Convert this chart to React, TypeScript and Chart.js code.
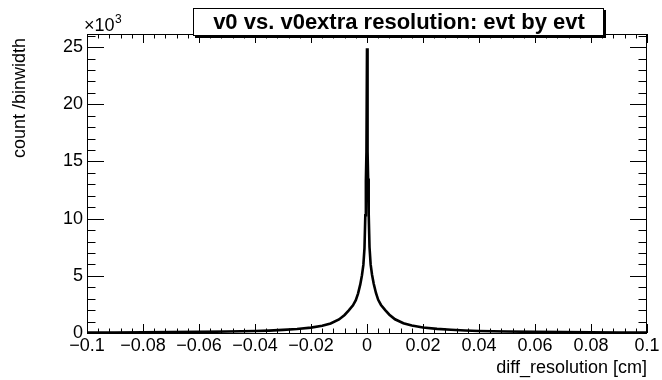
import React, { useEffect, useRef } from "react";
import { Chart, registerables } from "chart.js";

Chart.register(...registerables);

// ---- data (diff_resolution in cm, count per binwidth) ----
const xValues = [
  -0.1, -0.09, -0.08, -0.07, -0.06, -0.05, -0.04, -0.035, -0.03, -0.025,
  -0.02, -0.016, -0.013, -0.01, -0.008, -0.0065, -0.005, -0.004, -0.0032, -0.0024,
  -0.0018, -0.0013, -0.0009, -0.0006, -0.0004, -0.0002, 0, 0.0002, 0.0004, 0.0006,
  0.0009, 0.0013, 0.0018, 0.0024, 0.0032, 0.004, 0.005, 0.0065, 0.008, 0.01,
  0.013, 0.016, 0.02, 0.025, 0.03, 0.035, 0.04, 0.05, 0.06, 0.07,
  0.08, 0.09, 0.1,
];
const yValues = [
  40, 50, 60, 75, 95, 125, 170, 210, 270, 350,
  470, 630, 830, 1180, 1580, 1980, 2420, 2870, 3450, 4250,
  5050, 5950, 7400, 10300, 13300, 15800, 24900, 15900, 13500, 10500,
  7500, 6000, 5100, 4300, 3500, 2900, 2450, 2000, 1600, 1200,
  850, 650, 480, 360, 280, 220, 180, 130, 100, 80,
  60, 50, 40,
];
const xTicks = [-0.1, -0.08, -0.06, -0.04, -0.02, 0, 0.02, 0.04, 0.06, 0.08, 0.1];
const yTicks = [0, 5000, 10000, 15000, 20000, 25000];
const titleText = "v0 vs. v0extra resolution: evt by evt";
const xTitle = "diff_resolution [cm]";
const yTitle = "count /binwidth";

const X_MIN = -0.1;
const X_MAX = 0.1;
const Y_MAX = 26145;
const FONT = '"Liberation Sans", Arial, Helvetica, sans-serif';

const fmtX = (v: number) => {
  const r = Math.round(v * 100) / 100;
  if (r === 0) return "0";
  return (r < 0 ? "\u2212" : "") + String(Math.abs(r));
};

const rootPlugin = {
  id: "rootFrame",
  afterDraw(chart: any) {
    const { ctx, chartArea } = chart;
    const { left, right, top, bottom } = chartArea;
    const xs = chart.scales.x;
    const ys = chart.scales.y;
    ctx.save();
    ctx.strokeStyle = "#000";
    ctx.lineWidth = 1;
    // frame
    ctx.strokeRect(Math.round(left) + 0.5, Math.round(top) + 0.5, Math.round(right - left) - 1, Math.round(bottom - top));

    const line = (x1: number, y1: number, x2: number, y2: number) => {
      ctx.beginPath();
      ctx.moveTo(x1, y1);
      ctx.lineTo(x2, y2);
      ctx.stroke();
    };
    // x ticks (major + minor) on bottom and top
    const xMajorLen = 9, xMinorLen = 4.5;
    for (let i = 0; i <= 50; i++) {
      const v = X_MIN + (i * (X_MAX - X_MIN)) / 50;
      const px = Math.round(xs.getPixelForValue(v)) + 0.5;
      const len = i % 5 === 0 ? xMajorLen : xMinorLen;
      line(px, bottom, px, bottom - len);
      line(px, top, px, top + len);
    }
    // y ticks on left and right
    const yMajorLen = 17, yMinorLen = 8.5;
    for (let v = 0; v <= Y_MAX; v += 1000) {
      const py = Math.round(ys.getPixelForValue(v)) + 0.5;
      const len = v % 5000 === 0 ? yMajorLen : yMinorLen;
      line(left, py, left + len, py);
      line(right, py, right - len, py);
    }

    ctx.fillStyle = "#000";
    // x10^3
    ctx.font = `18px ${FONT}`;
    ctx.textAlign = "left";
    ctx.textBaseline = "alphabetic";
    ctx.fillText("\u00d710", 84, 31);
    ctx.font = `12px ${FONT}`;
    ctx.fillText("3", 115, 23);

    // axis titles
    ctx.font = `18px ${FONT}`;
    ctx.textAlign = "right";
    ctx.textBaseline = "middle";
    ctx.fillText(xTitle, right, 368);
    ctx.save();
    ctx.translate(20, top + 4);
    ctx.rotate(-Math.PI / 2);
    ctx.textAlign = "right";
    ctx.fillText(yTitle, 0, 0);
    ctx.restore();

    // title box with shadow
    const bx = 193, by = 8, bw = 410, bh = 27;
    ctx.fillStyle = "#000";
    ctx.fillRect(bx + 2, by + 2, bw + 1, bh + 1);
    ctx.fillStyle = "#fff";
    ctx.fillRect(bx, by, bw, bh);
    ctx.strokeStyle = "#000";
    ctx.lineWidth = 1;
    ctx.strokeRect(bx + 0.5, by + 0.5, bw, bh);
    ctx.fillStyle = "#000";
    ctx.font = `bold 22px ${FONT}`;
    ctx.textAlign = "center";
    ctx.textBaseline = "middle";
    ctx.fillText(titleText, bx + bw / 2 + 1, by + bh / 2 + 1);
    ctx.restore();
  },
};

export default function App() {
  const ref = useRef<HTMLCanvasElement | null>(null);
  useEffect(() => {
    document.body.style.margin = "0";
    const canvas = ref.current;
    if (!canvas) return;
    const chart = new Chart(canvas, {
      type: "line",
      data: {
        datasets: [
          {
            data: xValues.map((x, i) => ({ x, y: yValues[i] })),
            borderColor: "#000",
            borderWidth: 2.6,
            pointRadius: 0,
            tension: 0,
            fill: false,
          },
        ],
      },
      options: {
        animation: false,
        responsive: false,
        devicePixelRatio: 1,
        events: [],
        layout: { padding: { top: 34, right: 15, bottom: 0, left: 0 } },
        plugins: { legend: { display: false }, tooltip: { enabled: false }, title: { display: false } },
        scales: {
          x: {
            type: "linear",
            min: X_MIN,
            max: X_MAX,
            grid: { display: false, drawTicks: false },
            border: { display: false },
            afterBuildTicks: (s: any) => {
              s.ticks = xTicks.map((v) => ({ value: v }));
            },
            afterFit: (s: any) => {
              s.height = 47;
            },
            ticks: {
              autoSkip: false,
              maxRotation: 0,
              minRotation: 0,
              padding: 2,
              color: "#000",
              font: { family: FONT, size: 18 },
              callback: (v: any) => fmtX(Number(v)),
            },
          },
          y: {
            type: "linear",
            min: 0,
            max: Y_MAX,
            grid: { display: false, drawTicks: false },
            border: { display: false },
            afterBuildTicks: (s: any) => {
              s.ticks = yTicks.map((v) => ({ value: v }));
            },
            afterFit: (s: any) => {
              s.width = 87;
            },
            ticks: {
              autoSkip: false,
              padding: 4,
              color: "#000",
              font: { family: FONT, size: 18 },
              callback: (v: any) => String(Math.round(Number(v) / 1000)),
            },
          },
        },
      },
      plugins: [rootPlugin],
    });
    return () => chart.destroy();
  }, []);
  return (
    <div style={{ position: "fixed", left: 0, top: 0, width: 662, height: 380, background: "#fff" }}>
      <canvas ref={ref} width={662} height={380} style={{ display: "block", width: 662, height: 380 }} />
    </div>
  );
}
